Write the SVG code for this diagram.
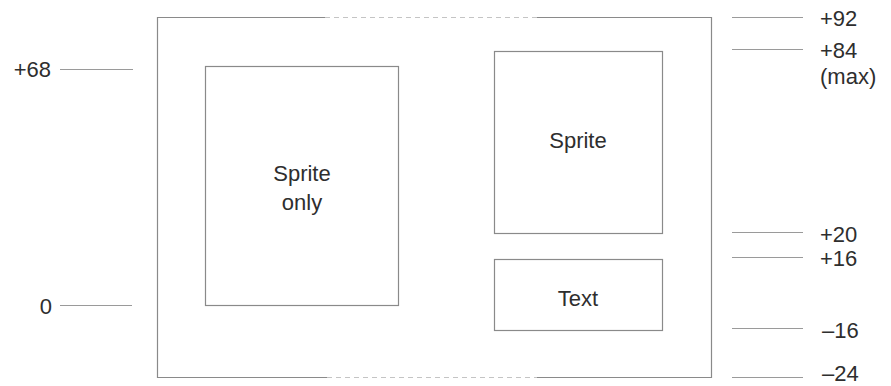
<svg xmlns="http://www.w3.org/2000/svg" width="891" height="386" viewBox="0 0 891 386">
<style>
.box{fill:none;stroke:#8a8a8a;stroke-width:1.2}
.edge{stroke:#8a8a8a;stroke-width:1.2;fill:none}
.dash{stroke:#c4c4c4;stroke-width:1.2;stroke-dasharray:5 4;fill:none}
.tick{stroke:#9a9a9a;stroke-width:1}
text{font-family:"Liberation Sans",Arial,sans-serif;font-size:22px;fill:#2e2e2e}
.m{text-anchor:middle}
.e{text-anchor:end}
</style>
<rect width="891" height="386" fill="#fff"/>
<g id="outer">
<path class="edge" d="M325,17.5 H157.5 V377.5 H327 M537,377.5 H711.5 V17.5 H537"/>
<path class="dash" d="M325,17.5 H537 M327,377.5 H537"/>
</g>
<g id="sprite-only">
<rect class="box" x="205.5" y="66.5" width="193" height="239"/>
<text class="m" x="302" y="181">Sprite</text>
<text class="m" x="302" y="210">only</text>
</g>
<g id="sprite">
<rect class="box" x="494.5" y="51.5" width="168" height="182"/>
<text class="m" x="578" y="148">Sprite</text>
</g>
<g id="text">
<rect class="box" x="494.5" y="259.5" width="168" height="71"/>
<text class="m" x="578" y="306">Text</text>
</g>
<g id="connectors">
<line class="tick" x1="60" y1="69.5" x2="133" y2="69.5"/>
<line class="tick" x1="60" y1="305.5" x2="132" y2="305.5"/>
<line class="tick" x1="732" y1="17.5" x2="803" y2="17.5"/>
<line class="tick" x1="732" y1="49.5" x2="803" y2="49.5"/>
<line class="tick" x1="732" y1="232.5" x2="803" y2="232.5"/>
<line class="tick" x1="732" y1="257.5" x2="803" y2="257.5"/>
<line class="tick" x1="732" y1="328.5" x2="803" y2="328.5"/>
<line class="tick" x1="732" y1="377.5" x2="803" y2="377.5"/>
</g>
<g id="labels">
<text class="e" x="51" y="77">+68</text>
<text class="e" x="52" y="314">0</text>
<text x="820" y="26">+92</text>
<text x="820" y="58">+84</text>
<text x="820" y="84">(max)</text>
<text x="820" y="242">+20</text>
<text x="820" y="266">+16</text>
<text x="822" y="338">–16</text>
<text x="822" y="381">–24</text>
</g>
</svg>
